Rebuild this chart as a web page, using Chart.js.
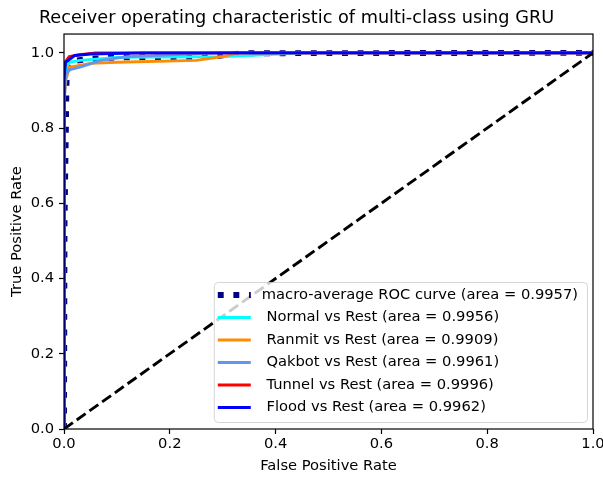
<!DOCTYPE html>
<html>
<head>
<meta charset="utf-8">
<script src="https://cdn.jsdelivr.net/npm/chart.js@4/dist/chart.umd.min.js"></script>
<style>
  html, body { margin:0; padding:0; background:#fff; }
  #wrap { width:603px; height:479px; position:relative; }
</style>
</head>
<body>
<div id="wrap"><canvas id="roc"></canvas></div>
<script>
// ROC curves (fpr / tpr pairs per class)
const fprMacro  = [0, 0.001, 0.005, 0.015, 0.05, 0.1, 0.28, 0.34, 1.0];
const tprMacro  = [0, 0.55, 0.95, 0.978, 0.984, 0.988, 0.99, 0.999, 1.0];
const fprNormal = [0, 0, 0.003, 0.01, 0.03, 0.1, 0.3, 0.46, 1.0];
const tprNormal = [0, 0.9, 0.955, 0.975, 0.98, 0.988, 0.99, 1.0, 1.0];
const fprRanmit = [0, 0, 0.004, 0.01, 0.05, 0.1, 0.25, 0.3, 0.33, 1.0];
const tprRanmit = [0, 0.88, 0.93, 0.962, 0.972, 0.975, 0.98, 0.99, 1.0, 1.0];
const fprQakbot = [0, 0, 0.003, 0.01, 0.03, 0.07, 0.12, 0.3, 1.0];
const tprQakbot = [0, 0.85, 0.94, 0.955, 0.962, 0.98, 0.99, 1.0, 1.0];
const fprTunnel = [0, 0, 0.002, 0.01, 0.03, 0.06, 1.0];
const tprTunnel = [0, 0.95, 0.975, 0.99, 0.995, 1.0, 1.0];
const fprFlood  = [0, 0, 0.003, 0.02, 0.05, 0.15, 1.0];
const tprFlood  = [0, 0.93, 0.975, 0.993, 0.997, 1.0, 1.0];
const fprChance = [0, 1];
const tprChance = [0, 1];

const labels = [
  'macro-average ROC curve (area = 0.9957)',
  ' Normal vs Rest (area = 0.9956)',
  ' Ranmit vs Rest (area = 0.9909)',
  ' Qakbot vs Rest (area = 0.9961)',
  ' Tunnel vs Rest (area = 0.9996)',
  ' Flood vs Rest (area = 0.9962)'
];

const FONT = 'DejaVu Sans';
const pts = (xs, ys) => xs.map((x, i) => ({ x, y: ys[i] }));

function line(label, xs, ys, color, width, dash, order) {
  return {
    label, data: pts(xs, ys), borderColor: color, backgroundColor: color,
    borderWidth: width, borderDash: dash || [], borderCapStyle: 'butt',
    pointRadius: 0, fill: false, tension: 0, clip: 0, order
  };
}

// matplotlib-like legend inside the lower right of the axes
const boxLegend = {
  id: 'boxLegend',
  afterDraw(chart) {
    const { ctx, chartArea } = chart;
    const items = chart.data.datasets.filter(d => d.label);
    ctx.save();
    ctx.font = '14.7px "' + FONT + '"';
    const textW = Math.max(...items.map(d => ctx.measureText(d.label).width));
    const w = 48 + textW + 9, h = 140;
    const right = chartArea.right - 6, bottom = chartArea.bottom - 7;
    const left = right - w, top = bottom - h;
    ctx.beginPath();
    ctx.roundRect(left + 0.5, top + 0.5, w, h, 4);
    ctx.fillStyle = 'rgba(255,255,255,0.8)';
    ctx.fill();
    ctx.strokeStyle = 'rgba(204,204,204,0.8)';
    ctx.lineWidth = 1;
    ctx.stroke();
    items.forEach((d, i) => {
      const y = top + 13 + i * 22.5;
      ctx.beginPath();
      ctx.setLineDash(d.borderDash);
      ctx.lineCap = 'butt';
      ctx.lineWidth = d.borderWidth;
      ctx.strokeStyle = d.borderColor;
      ctx.moveTo(left + 4, y);
      ctx.lineTo(left + 37, y);
      ctx.stroke();
      ctx.setLineDash([]);
      ctx.fillStyle = '#000';
      ctx.textBaseline = 'middle';
      ctx.textAlign = 'left';
      ctx.fillText(d.label, left + 48, y);
    });
    ctx.restore();
  }
};

// four spines on top of the lines
const spines = {
  id: 'spines',
  afterDatasetsDraw(chart) {
    const { ctx, chartArea: a } = chart;
    ctx.save();
    ctx.strokeStyle = '#000';
    ctx.lineWidth = 1.2;
    ctx.strokeRect(a.left, a.top, a.right - a.left, a.bottom - a.top);
    ctx.restore();
  }
};

const tickFont = { family: FONT, size: 14.7 };

new Chart(document.getElementById('roc'), {
  type: 'line',
  data: {
    datasets: [
      line(labels[0], fprMacro, tprMacro, '#000080', 5.9, [5.9, 9.7], 6),
      line(labels[1], fprNormal, tprNormal, '#00ffff', 2.9, null, 5),
      line(labels[2], fprRanmit, tprRanmit, '#ff8c00', 2.9, null, 4),
      line(labels[3], fprQakbot, tprQakbot, '#6495ed', 2.9, null, 3),
      line(labels[4], fprTunnel, tprTunnel, '#ff0000', 2.9, null, 2),
      line(labels[5], fprFlood, tprFlood, '#0000ff', 2.9, null, 1),
      line(null, fprChance, tprChance, '#000000', 2.9, [10.9, 4.7], 0)
    ]
  },
  options: {
    animation: false,
    responsive: true,
    maintainAspectRatio: false,
    devicePixelRatio: 1,
    events: [],
    layout: { padding: { left: 0, right: 10, top: 0, bottom: 0 } },
    plugins: {
      legend: { display: false },
      tooltip: { enabled: false },
      title: {
        display: true,
        text: 'Receiver operating characteristic of multi-class using GRU',
        color: '#000',
        font: { family: FONT, size: 17.7, weight: 'normal' },
        padding: { top: 8, bottom: 4.8 }
      }
    },
    scales: {
      x: {
        type: 'linear', min: 0, max: 1,
        grid: { drawOnChartArea: false, drawTicks: true, tickLength: 5, tickColor: '#000', tickWidth: 1.2 },
        border: { display: false },
        ticks: { stepSize: 0.2, color: '#000', font: tickFont, padding: 1, maxRotation: 0,
                 callback: v => v.toFixed(1) },
        title: { display: true, text: 'False Positive Rate', color: '#000', font: tickFont,
                 padding: { top: 0, bottom: 4.2 } },
        afterFit(s) { s.height = 50; s.paddingLeft = 0; s.paddingRight = 0; }
      },
      y: {
        type: 'linear', min: 0, max: 1.05,
        grid: { drawOnChartArea: false, drawTicks: true, tickLength: 5, tickColor: '#000', tickWidth: 1.2 },
        border: { display: false },
        ticks: { stepSize: 0.2, includeBounds: false, color: '#000', font: tickFont, padding: 5,
                 callback: v => v.toFixed(1) },
        title: { display: true, text: 'True Positive Rate', color: '#000', font: tickFont,
                 padding: { top: 8.7, bottom: 0 } },
        afterFit(s) { s.width = 64; s.paddingTop = 0; s.paddingBottom = 0; }
      }
    }
  },
  plugins: [spines, boxLegend]
});
</script>
</body>
</html>
